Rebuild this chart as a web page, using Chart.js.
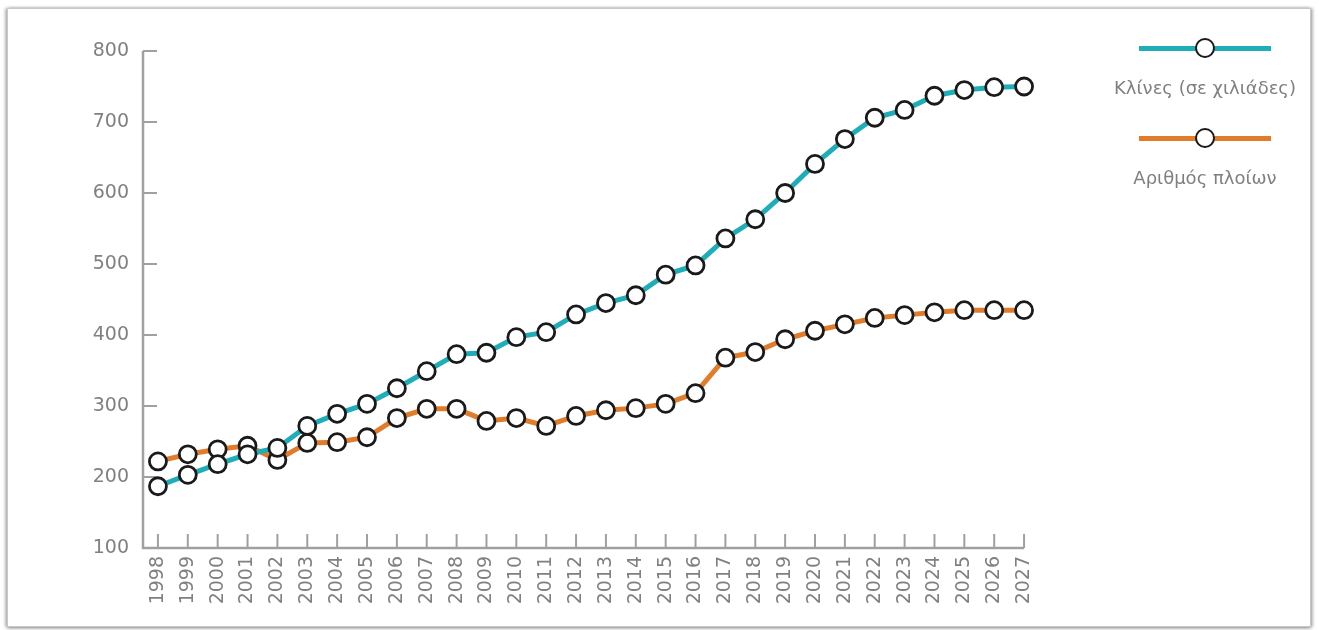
<!DOCTYPE html>
<html lang="el">
<head>
<meta charset="utf-8">
<title>Κλίνες και πλοία</title>
<script src="https://cdn.jsdelivr.net/npm/chart.js@4/dist/chart.umd.min.js"></script>
<style>
    html, body { margin: 0; padding: 0; background: #ffffff; }
    body { width: 1319px; height: 630px; position: relative; overflow: hidden; font-family: "DejaVu Sans", sans-serif; }
    .frame {
        position: absolute; left: 7px; top: 8px; width: 1304px; height: 619px;
        border: 1px solid #c8c8c8; box-shadow: -2px 0 3px rgba(0,0,0,0.25), 2px 0 3px rgba(0,0,0,0.25), 0 2px 3px rgba(0,0,0,0.2);
        box-sizing: border-box;
    }
    #chartWrap { position: absolute; left: 0; top: 0; width: 1319px; height: 630px; }
    .legend-item { position: absolute; width: 220px; text-align: center; color: #808080; font-size: 18px; }
    .legend-line { position: relative; height: 5px; margin: 0 auto; width: 132px; }
    .legend-dot {
        position: absolute; left: 56px; top: -8px; width: 16px; height: 16px;
        border-radius: 50%; border: 2.5px solid #1a1a1a; background: #fff;
    }
</style>
</head>
<body>
<div class="frame"></div>
<div id="chartWrap"><canvas id="chart" width="1319" height="630"></canvas></div>

<div class="legend-item" style="left:1095px; top:46px;">
    <div class="legend-line" style="background:#1fadb9;"><div class="legend-dot"></div></div>
    <div style="margin-top:26px;">Κλίνες (σε χιλιάδες)</div>
</div>
<div class="legend-item" style="left:1095px; top:136px;">
    <div class="legend-line" style="background:#e07c2a;"><div class="legend-dot"></div></div>
    <div style="margin-top:26px;">Αριθμός πλοίων</div>
</div>

<script>
// Datos
const years = ['1998', '1999', '2000', '2001', '2002', '2003', '2004', '2005', '2006', '2007',
    '2008', '2009', '2010', '2011', '2012', '2013', '2014', '2015', '2016', '2017',
    '2018', '2019', '2020', '2021', '2022', '2023', '2024', '2025', '2026', '2027'];

const beds = [187, 203, 218, 232, 241, 272, 289, 303, 325, 349,
    373, 375, 397, 404, 429, 445, 456, 485, 498, 536,
    563, 600, 641, 676, 706, 717, 737, 745, 749, 750];

const ships = [222, 232, 239, 244, 224, 248, 249, 256, 283, 296,
    296, 279, 283, 272, 286, 294, 297, 303, 318, 368,
    376, 394, 406, 415, 424, 428, 432, 435, 435, 435];

const yTicks = [100, 200, 300, 400, 500, 600, 700, 800];

const tealColor = '#1fadb9';
const orangeColor = '#e07c2a';
const axisColor = '#a0a0a0';
const labelColor = '#808080';

// Ejes dibujados a mano: ticks hacia dentro como en el original
const axesPlugin = {
    id: 'innerAxes',
    beforeDatasetsDraw(chart) {
        const ctx = chart.ctx;
        const x = chart.scales.x;
        const y = chart.scales.y;
        const left = chart.chartArea.left;
        const bottom = y.getPixelForValue(100);
        const top = y.getPixelForValue(800);
        const lastX = x.getPixelForValue(years.length - 1);
        ctx.save();
        ctx.strokeStyle = axisColor;
        ctx.lineWidth = 2.5;
        ctx.lineCap = 'butt';
        ctx.beginPath();
        ctx.moveTo(left, top);
        ctx.lineTo(left, bottom);
        ctx.lineTo(lastX, bottom);
        ctx.stroke();
        ctx.lineWidth = 2;
        ctx.beginPath();
        yTicks.forEach(v => {
            const py = y.getPixelForValue(v);
            ctx.moveTo(left, py);
            ctx.lineTo(left + 14, py);
        });
        years.forEach((_, i) => {
            const px = x.getPixelForValue(i);
            ctx.moveTo(px, bottom);
            ctx.lineTo(px, bottom - 14);
        });
        ctx.stroke();
        ctx.restore();
    }
};

new Chart(document.getElementById('chart'), {
    type: 'line',
    data: {
        labels: years,
        datasets: [
            {
                label: 'Αριθμός πλοίων',
                data: ships,
                borderColor: orangeColor,
                borderWidth: 5,
                tension: 0,
                pointRadius: 8.5,
                pointBackgroundColor: '#ffffff',
                pointBorderColor: '#1a1a1a',
                pointBorderWidth: 2.8,
                order: 2
            },
            {
                label: 'Κλίνες (σε χιλιάδες)',
                data: beds,
                borderColor: tealColor,
                borderWidth: 5,
                tension: 0,
                pointRadius: 8.5,
                pointBackgroundColor: '#ffffff',
                pointBorderColor: '#1a1a1a',
                pointBorderWidth: 2.8,
                order: 1
            }
        ]
    },
    options: {
        responsive: false,
        animation: false,
        layout: { padding: { top: 51, right: 280, bottom: 0, left: 0 } },
        scales: {
            x: {
                offset: true,
                grid: { display: false, drawTicks: false },
                border: { display: false },
                ticks: {
                    color: labelColor,
                    font: { family: 'DejaVu Sans', size: 19 },
                    minRotation: 90,
                    maxRotation: 90,
                    autoSkip: false,
                    padding: 8
                },
                afterFit(scale) { scale.height = 82; }
            },
            y: {
                min: 100,
                max: 800,
                grid: { display: false, drawTicks: false },
                border: { display: false },
                ticks: {
                    stepSize: 100,
                    color: labelColor,
                    font: { family: 'DejaVu Sans', size: 19 },
                    padding: 14
                },
                afterFit(scale) { scale.height; scale.width = 143; }
            }
        },
        plugins: {
            legend: { display: false },
            tooltip: { enabled: false }
        }
    },
    plugins: [axesPlugin]
});
</script>
</body>
</html>
